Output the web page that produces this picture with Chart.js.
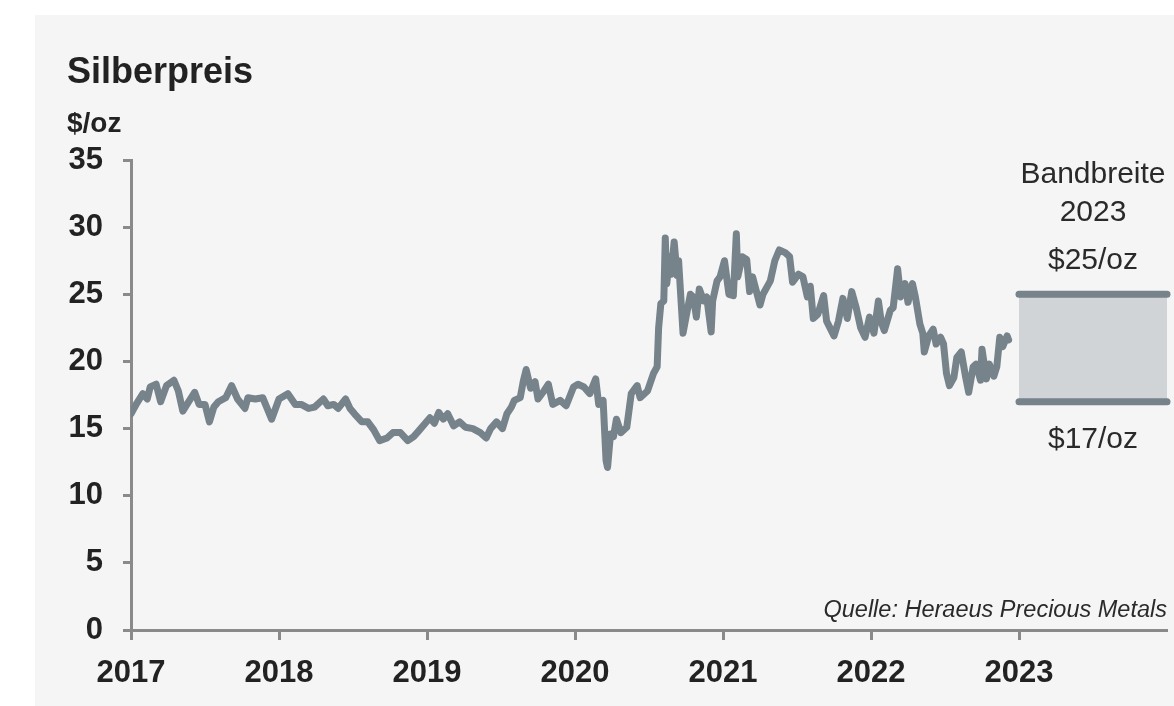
<!DOCTYPE html>
<html><head><meta charset="utf-8">
<script src="https://cdn.jsdelivr.net/npm/chart.js@4.4.0/dist/chart.umd.min.js"></script>
<style>html,body{margin:0;padding:0;background:#fff;overflow:hidden}</style>
</head><body>
<canvas id="c" width="1174" height="706"></canvas>
<script>
const titleText = 'Silberpreis';
const unitText = '$/oz';
const sourceText = 'Quelle: Heraeus Precious Metals';
const bandTitle = ['Bandbreite', '2023'];
const bandLabels = ['$25/oz', '$17/oz'];

const xTickValues = [2017, 2018, 2019, 2020, 2021, 2022, 2023];
const yTickValues = [0, 5, 10, 15, 20, 25, 30, 35];

const years = [
2017.00,2017.04,2017.08,2017.11,2017.13,2017.17,2017.20,2017.24,2017.29,2017.32,2017.35,2017.39,2017.43,2017.46,2017.50,2017.53,2017.56,2017.59,2017.64,2017.68,2017.72,2017.77,2017.79,2017.84,2017.89,2017.95,
2018.00,2018.06,2018.11,2018.15,2018.20,2018.24,2018.30,2018.33,2018.37,2018.40,2018.45,2018.48,2018.51,
2018.56,2018.60,2018.64,2018.68,2018.73,2018.77,2018.82,2018.87,2018.91,2018.95,
2019.02,2019.05,2019.08,2019.11,2019.14,2019.18,2019.22,2019.26,2019.31,2019.36,2019.40,2019.43,2019.47,2019.51,2019.54,2019.57,2019.59,2019.63,2019.65,2019.67,2019.70,2019.73,2019.75,2019.79,2019.82,2019.85,2019.90,2019.94,2019.99,
2020.02,2020.06,2020.10,2020.14,2020.16,2020.19,2020.21,2020.22,2020.24,2020.26,2020.28,2020.31,2020.35,2020.38,2020.42,2020.44,2020.49,2020.53,2020.555,2020.565,2020.58,2020.60,2020.61,2020.62,2020.64,2020.65,2020.67,2020.69,2020.70,2020.73,2020.75,2020.78,2020.80,2020.82,2020.84,2020.87,2020.89,2020.92,2020.93,2020.96,2020.98,
2021.01,2021.04,2021.07,2021.09,2021.10,2021.13,2021.16,2021.18,2021.20,2021.25,2021.27,2021.32,2021.35,2021.38,2021.42,2021.45,2021.47,2021.51,
2021.54,2021.57,2021.59,2021.61,2021.64,2021.68,2021.70,2021.75,2021.78,2021.81,2021.84,2021.87,2021.90,2021.93,2021.96,2021.99,
2022.02,2022.05,2022.07,2022.09,2022.13,2022.15,2022.18,2022.20,2022.23,2022.25,2022.28,2022.30,2022.33,2022.35,2022.36,2022.39,2022.42,2022.44,2022.47,2022.49,2022.51,2022.53,2022.56,2022.58,2022.61,2022.64,2022.66,2022.69,2022.71,2022.74,2022.75,2022.78,2022.80,2022.83,2022.85,2022.87,2022.89,2022.92,2022.93
];
const prices = [
16.1,16.9,17.6,17.2,18.1,18.3,17.0,18.2,18.6,17.8,16.3,17.0,17.7,16.8,16.8,15.5,16.6,17.0,17.3,18.2,17.2,16.5,17.3,17.2,17.3,15.7,
17.2,17.6,16.8,16.8,16.5,16.6,17.2,16.7,16.8,16.5,17.2,16.5,16.1,
15.5,15.5,14.9,14.1,14.3,14.7,14.7,14.1,14.4,14.9,
15.8,15.4,16.2,15.7,16.1,15.2,15.5,15.1,15.0,14.7,14.3,15.0,15.5,15.0,16.1,16.6,17.1,17.3,18.5,19.4,18.0,18.5,17.2,17.8,18.3,16.8,17.1,16.7,18.1,
18.3,18.1,17.6,18.7,16.8,17.1,12.6,12.1,14.6,14.4,15.7,14.7,15.1,17.6,18.2,17.3,17.8,19.1,19.6,22.5,24.3,24.5,29.2,25.8,27.8,26.5,28.9,26.4,27.5,22.1,23.3,25.0,24.8,23.3,25.4,24.5,24.8,22.2,24.5,26.0,26.3,
27.5,25.0,24.9,29.5,26.3,27.8,27.6,25.2,26.3,24.2,25.0,26.0,27.5,28.3,28.1,27.8,25.9,26.5,
26.3,24.8,25.6,23.2,23.5,24.9,23.0,21.9,23.0,24.7,23.2,25.2,24.0,22.5,21.8,23.3,
22.1,24.5,22.9,22.3,23.8,24.0,26.9,24.8,25.8,24.4,25.8,24.8,22.8,22.1,20.7,21.9,22.4,21.3,21.8,21.3,19.1,18.2,18.8,20.3,20.7,18.8,17.7,19.6,19.8,18.6,20.9,18.7,19.8,18.9,19.6,21.8,21.1,21.9,21.6
];

const bandYears = [2023, 2024];
const bandHigh = [25, 25];
const bandLow = [17, 17];

const lineColor = '#76838b';
const axisColor = '#8a8a8a';
const textColor = '#222222';
const FONT = '"Liberation Sans", Arial, sans-serif';

const decor = {
  id: 'decor',
  beforeDraw(chart) {
    const ctx = chart.ctx;
    ctx.save();
    ctx.fillStyle = '#ffffff';
    ctx.fillRect(0, 0, chart.width, chart.height);
    ctx.fillStyle = '#f5f5f5';
    ctx.fillRect(35, 15, chart.width - 35, chart.height - 15);
    ctx.restore();
  },
  afterDraw(chart) {
    const { ctx, scales: { x, y } } = chart;
    ctx.save();
    ctx.fillStyle = textColor;
    ctx.textBaseline = 'alphabetic';
    ctx.textAlign = 'left';
    ctx.font = 'bold 36px ' + FONT;
    ctx.fillText(titleText, 67, 83);
    ctx.font = 'bold 28px ' + FONT;
    ctx.fillText(unitText, 67, 132);

    const cx = (x.getPixelForValue(bandYears[0]) + x.getPixelForValue(bandYears[1])) / 2;
    ctx.textAlign = 'center';
    ctx.fillStyle = '#2a2a2a';
    ctx.font = '30px ' + FONT;
    ctx.fillText(bandTitle[0], cx, 183);
    ctx.fillText(bandTitle[1], cx, 221);
    ctx.fillText(bandLabels[0], cx, y.getPixelForValue(bandHigh[0]) - 25);
    ctx.fillText(bandLabels[1], cx, y.getPixelForValue(bandLow[0]) + 46);

    ctx.textAlign = 'right';
    ctx.font = 'italic 23.5px ' + FONT;
    ctx.fillText(sourceText, x.right, 617);
    ctx.restore();
  }
};

new Chart(document.getElementById('c'), {
  type: 'line',
  data: {
    datasets: [
      {
        data: years.map((v, i) => ({ x: v, y: prices[i] })),
        borderColor: lineColor,
        borderWidth: 7,
        pointRadius: 0,
        tension: 0,
        borderJoinStyle: 'round',
        borderCapStyle: 'round',
        fill: false
      },
      {
        data: bandYears.map((v, i) => ({ x: v, y: bandHigh[i] })),
        borderColor: lineColor,
        borderWidth: 7,
        borderCapStyle: 'round',
        pointRadius: 0,
        fill: false,
        clip: false
      },
      {
        data: bandYears.map((v, i) => ({ x: v, y: bandLow[i] })),
        borderColor: lineColor,
        borderWidth: 7,
        borderCapStyle: 'round',
        backgroundColor: '#d0d4d7',
        pointRadius: 0,
        fill: '-1',
        clip: false
      }
    ]
  },
  options: {
    responsive: false,
    animation: false,
    devicePixelRatio: 1,
    layout: { padding: { top: 160, left: 0, right: 7, bottom: 0 } },
    plugins: { legend: { display: false }, tooltip: { enabled: false }, title: { display: false } },
    scales: {
      x: {
        type: 'linear',
        min: 2017, max: 2024,
        afterBuildTicks(scale) { scale.ticks = xTickValues.map(v => ({ value: v })); },
        afterFit(scale) { scale.height = 76; },
        border: { display: true, color: axisColor, width: 3 },
        grid: { display: true, drawOnChartArea: false, drawTicks: true, tickLength: 10, tickWidth: 3, tickColor: axisColor },
        ticks: {
          padding: 15,
          maxRotation: 0,
          autoSkip: false,
          color: textColor,
          font: { family: FONT, size: 31, weight: 'bold' },
          callback: v => String(v)
        }
      },
      y: {
        min: 0, max: 35,
        afterBuildTicks(scale) { scale.ticks = yTickValues.map(v => ({ value: v })); },
        afterFit(scale) { scale.width = 131; },
        border: { display: true, color: axisColor, width: 3 },
        grid: { display: true, drawOnChartArea: false, drawTicks: true, tickLength: 8, tickWidth: 3, tickColor: axisColor },
        ticks: {
          padding: 20,
          color: textColor,
          font: { family: FONT, size: 31, weight: 'bold' }
        }
      }
    }
  },
  plugins: [decor]
});
</script>
</body></html>
